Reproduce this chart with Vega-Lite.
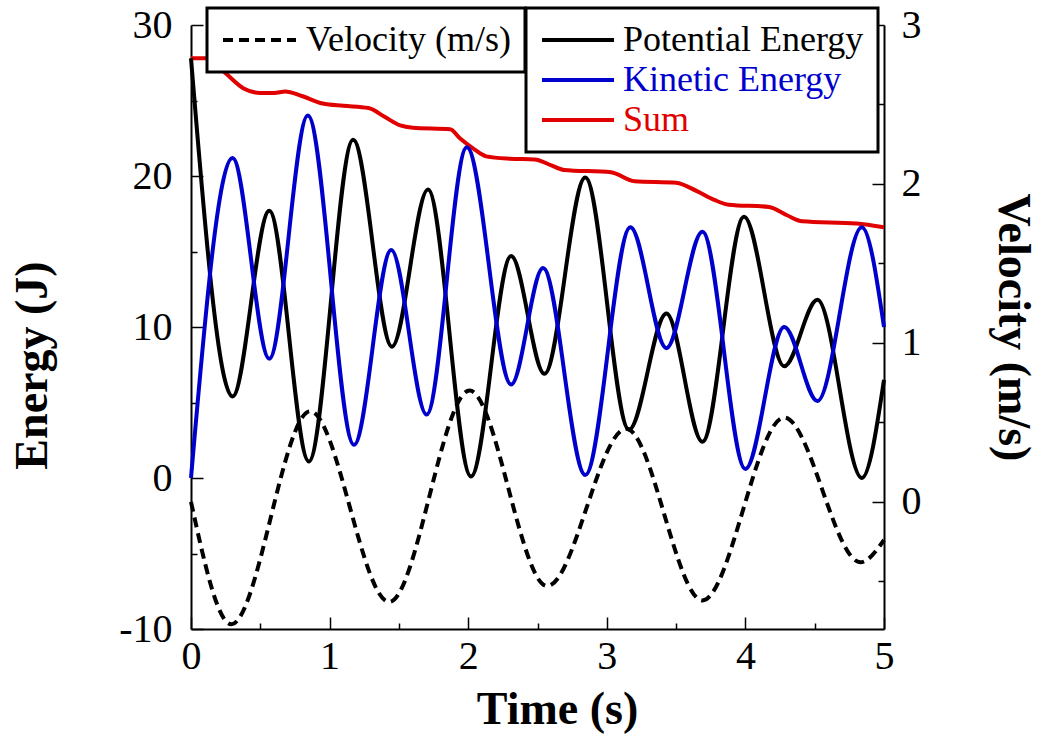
{
  "$schema": "https://vega.github.io/schema/vega-lite/v6.json",
  "width": 693,
  "height": 604,
  "autosize": {"type": "none"},
  "padding": {"left": 191, "top": 25, "right": 159, "bottom": 109},
  "background": "white",
  "config": {
    "view": {"stroke": null},
    "font": "Liberation Serif",
    "axis": {
      "grid": false,
      "domainColor": "black",
      "domainWidth": 2,
      "tickColor": "black",
      "tickWidth": 1.5,
      "labelFont": "Liberation Serif",
      "labelFontSize": 40,
      "labelColor": "black",
      "labelFlush": false,
      "labelOverlap": false,
      "labelBound": false,
      "titleFont": "Liberation Serif",
      "titleFontSize": 46,
      "titleFontWeight": "bold",
      "titleColor": "black"
    }
  },
  "datasets": {
    "energy": [
      {"t": 0, "series": "Sum", "energy": 27.8},
      {"t": 0.12, "series": "Sum", "energy": 27.8},
      {"t": 0.25, "series": "Sum", "energy": 26.8},
      {"t": 0.38, "series": "Sum", "energy": 25.8},
      {"t": 0.5, "series": "Sum", "energy": 25.5},
      {"t": 0.6, "series": "Sum", "energy": 25.5},
      {"t": 0.68, "series": "Sum", "energy": 25.6},
      {"t": 0.8, "series": "Sum", "energy": 25.3},
      {"t": 0.95, "series": "Sum", "energy": 24.8},
      {"t": 1.1, "series": "Sum", "energy": 24.65},
      {"t": 1.28, "series": "Sum", "energy": 24.5},
      {"t": 1.4, "series": "Sum", "energy": 23.9},
      {"t": 1.51, "series": "Sum", "energy": 23.35},
      {"t": 1.6, "series": "Sum", "energy": 23.2},
      {"t": 1.87, "series": "Sum", "energy": 23.1},
      {"t": 1.94, "series": "Sum", "energy": 22.5},
      {"t": 2.04, "series": "Sum", "energy": 21.8},
      {"t": 2.13, "series": "Sum", "energy": 21.3},
      {"t": 2.3, "series": "Sum", "energy": 21.15},
      {"t": 2.48, "series": "Sum", "energy": 21.1},
      {"t": 2.6, "series": "Sum", "energy": 20.7},
      {"t": 2.69, "series": "Sum", "energy": 20.4},
      {"t": 3.03, "series": "Sum", "energy": 20.25},
      {"t": 3.2, "series": "Sum", "energy": 19.65},
      {"t": 3.5, "series": "Sum", "energy": 19.55},
      {"t": 3.65, "series": "Sum", "energy": 19.0},
      {"t": 3.78, "series": "Sum", "energy": 18.4},
      {"t": 3.88, "series": "Sum", "energy": 18.1},
      {"t": 4.17, "series": "Sum", "energy": 17.95},
      {"t": 4.3, "series": "Sum", "energy": 17.4},
      {"t": 4.41, "series": "Sum", "energy": 17.0},
      {"t": 4.8, "series": "Sum", "energy": 16.85},
      {"t": 5.0, "series": "Sum", "energy": 16.6},

      {"t": 0, "series": "Potential Energy", "energy": 27.8},
      {"t": 0.3, "series": "Potential Energy", "energy": 5.4},
      {"t": 0.565, "series": "Potential Energy", "energy": 17.7},
      {"t": 0.85, "series": "Potential Energy", "energy": 1.1},
      {"t": 1.17, "series": "Potential Energy", "energy": 22.4},
      {"t": 1.45, "series": "Potential Energy", "energy": 8.7},
      {"t": 1.71, "series": "Potential Energy", "energy": 19.1},
      {"t": 2.02, "series": "Potential Energy", "energy": 0.1},
      {"t": 2.31, "series": "Potential Energy", "energy": 14.7},
      {"t": 2.55, "series": "Potential Energy", "energy": 6.9},
      {"t": 2.845, "series": "Potential Energy", "energy": 19.9},
      {"t": 3.16, "series": "Potential Energy", "energy": 3.2},
      {"t": 3.43, "series": "Potential Energy", "energy": 10.9},
      {"t": 3.69, "series": "Potential Energy", "energy": 2.4},
      {"t": 3.99, "series": "Potential Energy", "energy": 17.3},
      {"t": 4.28, "series": "Potential Energy", "energy": 7.4},
      {"t": 4.52, "series": "Potential Energy", "energy": 11.8},
      {"t": 4.84, "series": "Potential Energy", "energy": 0.0},
      {"t": 5.0, "series": "Potential Energy", "energy": 6.5},

      {"t": 0, "series": "Kinetic Energy", "energy": 0.0},
      {"t": 0.3, "series": "Kinetic Energy", "energy": 21.2},
      {"t": 0.565, "series": "Kinetic Energy", "energy": 7.9},
      {"t": 0.843, "series": "Kinetic Energy", "energy": 24.0},
      {"t": 1.176, "series": "Kinetic Energy", "energy": 2.2},
      {"t": 1.445, "series": "Kinetic Energy", "energy": 15.1},
      {"t": 1.7, "series": "Kinetic Energy", "energy": 4.2},
      {"t": 1.99, "series": "Kinetic Energy", "energy": 21.9},
      {"t": 2.31, "series": "Kinetic Energy", "energy": 6.2},
      {"t": 2.54, "series": "Kinetic Energy", "energy": 13.9},
      {"t": 2.845, "series": "Kinetic Energy", "energy": 0.2},
      {"t": 3.17, "series": "Kinetic Energy", "energy": 16.6},
      {"t": 3.43, "series": "Kinetic Energy", "energy": 8.6},
      {"t": 3.69, "series": "Kinetic Energy", "energy": 16.3},
      {"t": 4.0, "series": "Kinetic Energy", "energy": 0.6},
      {"t": 4.28, "series": "Kinetic Energy", "energy": 10.0},
      {"t": 4.52, "series": "Kinetic Energy", "energy": 5.1},
      {"t": 4.84, "series": "Kinetic Energy", "energy": 16.6},
      {"t": 5.0, "series": "Kinetic Energy", "energy": 10.0}
    ],
    "velocity": [
      {"t": 0, "quantity": "Velocity (m/s)", "v": 0.0},
      {"t": 0.29, "quantity": "Velocity (m/s)", "v": -0.77},
      {"t": 0.86, "quantity": "Velocity (m/s)", "v": 0.57},
      {"t": 1.43, "quantity": "Velocity (m/s)", "v": -0.63},
      {"t": 2.01, "quantity": "Velocity (m/s)", "v": 0.7},
      {"t": 2.57, "quantity": "Velocity (m/s)", "v": -0.53},
      {"t": 3.14, "quantity": "Velocity (m/s)", "v": 0.46},
      {"t": 3.69, "quantity": "Velocity (m/s)", "v": -0.62},
      {"t": 4.28, "quantity": "Velocity (m/s)", "v": 0.53},
      {"t": 4.83, "quantity": "Velocity (m/s)", "v": -0.38},
      {"t": 5.0, "quantity": "Velocity (m/s)", "v": -0.24}
    ]
  },
  "layer": [
    {
      "data": {"name": "energy"},
      "mark": {"type": "line", "interpolate": "monotone", "strokeWidth": 4},
      "encoding": {
        "x": {
          "field": "t", "type": "quantitative",
          "scale": {"domain": [0, 5], "nice": false, "zero": false},
          "axis": {
            "orient": "bottom", "values": [0, 1, 2, 3, 4, 5], "labelExpr": "datum.value + ''",
            "tickSize": -12, "labelPadding": 19,
            "title": "Time (s)", "titleX": 366, "titleY": 94,
            "titleAlign": "center", "titleBaseline": "alphabetic"
          }
        },
        "y": {
          "field": "energy", "type": "quantitative",
          "scale": {"domain": [-10, 30], "nice": false, "zero": false},
          "axis": {
            "orient": "left", "values": [-10, 0, 10, 20, 30], "labelExpr": "datum.value + ''",
            "tickSize": -12, "labelPadding": 31,
            "title": "Energy (J)", "titleX": -145, "titleY": 340, "titleAngle": -90,
            "titleAlign": "center", "titleBaseline": "alphabetic"
          }
        },
        "color": {
          "field": "series", "type": "nominal",
          "scale": {
            "domain": ["Potential Energy", "Kinetic Energy", "Sum"],
            "range": ["#000000", "#0000cd", "#e00000"]
          },
          "legend": {
            "title": null, "orient": "none", "legendX": 335, "legendY": -17,
            "direction": "vertical", "symbolType": "stroke", "symbolSize": 5184,
            "symbolStrokeWidth": 4, "labelFont": "Liberation Serif", "labelFontSize": 36,
            "labelOffset": 7, "labelLimit": 400, "clipHeight": 36, "rowPadding": 4,
            "padding": 14, "strokeColor": "black", "fillColor": "white",
            "encode": {
              "legend": {"update": {"strokeWidth": {"value": 3}}},
              "labels": {"update": {"fill": {"signal": "datum.value === 'Kinetic Energy' ? '#0000cd' : datum.value === 'Sum' ? '#e00000' : '#000000'"}}}
            }
          }
        }
      }
    },
    {
      "data": {"name": "energy"},
      "mark": {"type": "point", "opacity": 0},
      "encoding": {
        "x": {
          "field": "t", "type": "quantitative",
          "scale": {"domain": [0, 5], "nice": false, "zero": false},
          "axis": {"orient": "bottom", "values": [0.5, 1.5, 2.5, 3.5, 4.5], "tickSize": -6, "labels": false, "domain": false, "title": null}
        },
        "y": {
          "field": "energy", "type": "quantitative",
          "scale": {"domain": [-10, 30], "nice": false, "zero": false},
          "axis": {"orient": "left", "values": [-5, 5, 15, 25], "tickSize": -6, "labels": false, "domain": false, "title": null}
        }
      }
    },
    {
      "data": {"name": "velocity"},
      "mark": {"type": "line", "interpolate": "monotone", "strokeWidth": 4, "color": "black"},
      "encoding": {
        "x": {
          "field": "t", "type": "quantitative",
          "scale": {"domain": [0, 5], "nice": false, "zero": false},
          "axis": null
        },
        "y": {
          "field": "v", "type": "quantitative",
          "scale": {"domain": [-0.8, 3], "nice": false, "zero": false},
          "axis": {
            "orient": "right", "values": [0, 1, 2, 3], "labelExpr": "datum.value + ''",
            "tickSize": -12, "labelPadding": 29,
            "title": "Velocity (m/s)", "titleX": 114, "titleY": 302, "titleAngle": 90,
            "titleAlign": "center", "titleBaseline": "alphabetic"
          }
        },
        "strokeDash": {
          "field": "quantity", "type": "nominal",
          "scale": {"domain": ["Velocity (m/s)"], "range": [[10, 6]]},
          "legend": {
            "title": null, "orient": "none", "legendX": 16, "legendY": -17,
            "symbolType": "stroke", "symbolSize": 5329, "symbolStrokeWidth": 4,
            "symbolStrokeColor": "black", "labelFont": "Liberation Serif", "labelFontSize": 36,
            "labelColor": "black", "labelOffset": 8, "labelLimit": 400, "clipHeight": 36,
            "padding": 14, "strokeColor": "black", "fillColor": "white",
            "encode": {"legend": {"update": {"strokeWidth": {"value": 3}}}}
          }
        }
      }
    },
    {
      "data": {"name": "velocity"},
      "mark": {"type": "point", "opacity": 0},
      "encoding": {
        "x": {
          "field": "t", "type": "quantitative",
          "scale": {"domain": [0, 5], "nice": false, "zero": false},
          "axis": null
        },
        "y": {
          "field": "v", "type": "quantitative",
          "scale": {"domain": [-0.8, 3], "nice": false, "zero": false},
          "axis": {"orient": "right", "values": [-0.5, 0.5, 1.5, 2.5], "tickSize": -6, "labels": false, "domain": false, "title": null}
        }
      }
    }
  ],
  "resolve": {
    "scale": {"y": "independent"},
    "axis": {"x": "independent", "y": "independent"}
  }
}
